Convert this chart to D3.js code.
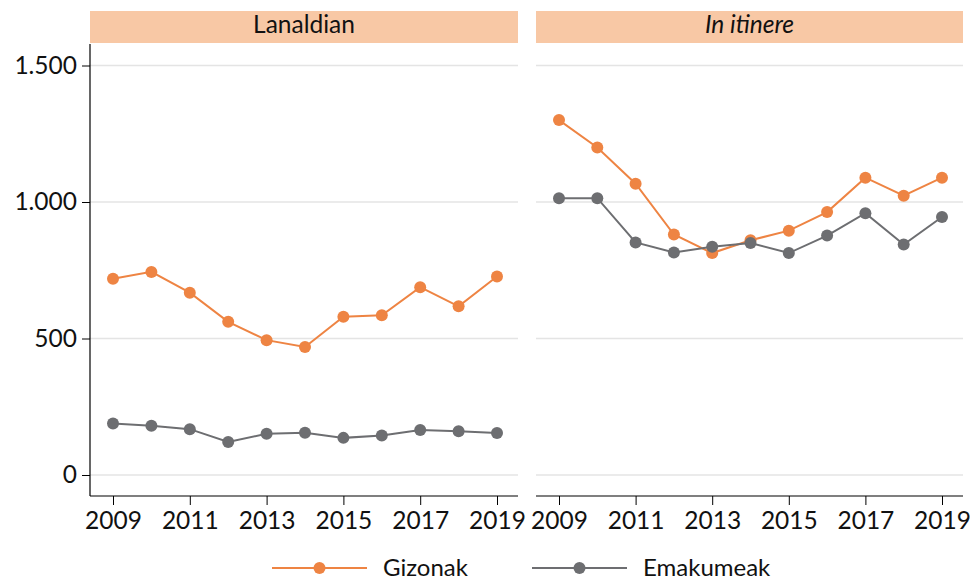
<!DOCTYPE html>
<html>
<head>
<meta charset="utf-8">
<script src="https://cdn.jsdelivr.net/npm/d3@7"></script>
<style>
  body { margin: 0; background: #fff; }
  text { font-family: Lato, "Open Sans", sans-serif; fill: #111; }
</style>
</head>
<body>
<div class="chart"></div>
<script>
const years = [2009, 2010, 2011, 2012, 2013, 2014, 2015, 2016, 2017, 2018, 2019];
const xTickYears = [2009, 2011, 2013, 2015, 2017, 2019];
const yTicks = [0, 500, 1000, 1500];
const panelTitles = ["Lanaldian", "In itinere"];
const seriesNames = ["Gizonak", "Emakumeak"];

const lanaldianGizonak = [719, 744, 668, 561, 494, 469, 580, 585, 688, 618, 727];
const lanaldianEmakumeak = [189, 180, 168, 121, 151, 155, 136, 145, 165, 160, 154];
const itinereGizonak = [1300, 1200, 1067, 881, 813, 860, 895, 963, 1089, 1023, 1089];
const itinereEmakumeak = [1014, 1014, 852, 815, 836, 850, 813, 877, 959, 844, 945];

const colors = ["#ee8443", "#6d6e71"];
const fontSize = "24.5px";

const width = 970, height = 582;
const panels = [
  { title: panelTitles[0], x0: 90, x1: 518, data: [lanaldianGizonak, lanaldianEmakumeak], italic: false },
  { title: panelTitles[1], x0: 536, x1: 963, data: [itinereGizonak, itinereEmakumeak], italic: true }
];
const plotTop = 44, plotBottom = 496;

const svg = d3
  .select(".chart")
  .append("svg")
  .attr("width", width)
  .attr("height", height);

const y = d3.scaleLinear().domain([0, 1500]).range([475, 65.5]);

panels.forEach((p, i) => {
  const g = svg.append("g");
  const x = d3.scaleLinear().domain([2009, 2019]).range([p.x0 + 23, p.x1 - 21]);

  // header strip
  g.append("rect")
    .attr("x", p.x0)
    .attr("y", 11)
    .attr("width", p.x1 - p.x0)
    .attr("height", 32)
    .attr("fill", "#f8c8a5");
  g.append("text")
    .attr("x", (p.x0 + p.x1) / 2)
    .attr("y", 24.5)
    .attr("dy", "0.35em")
    .attr("text-anchor", "middle")
    .style("font-size", fontSize)
    .style("font-style", p.italic ? "italic" : "normal")
    .text(p.title);

  // gridlines
  g.append("g")
    .selectAll("line")
    .data(yTicks)
    .enter()
    .append("line")
    .attr("x1", p.x0)
    .attr("x2", p.x1)
    .attr("y1", (d) => y(d))
    .attr("y2", (d) => y(d))
    .attr("stroke", "#e4e4e4")
    .attr("stroke-width", 1.5);

  // x axis
  const xAxis = g.append("g")
    .attr("transform", "translate(0," + plotBottom + ")")
    .call(d3.axisBottom(x).tickValues(xTickYears).tickFormat(d3.format("d")).tickSizeOuter(0).tickSize(9).tickPadding(7));
  xAxis.select(".domain").remove();
  xAxis.append("line")
    .attr("x1", p.x0).attr("x2", p.x1)
    .attr("stroke", "#000").attr("stroke-width", 1.2);
  xAxis.selectAll(".tick line").attr("stroke", "#000");
  xAxis.selectAll("text").style("font-size", fontSize).attr("fill", "#111")
    .style("font-family", "Lato, sans-serif");

  // y axis only on first panel
  if (i === 0) {
    const yAxis = g.append("g")
      .attr("transform", "translate(" + p.x0 + ",0)")
      .call(d3.axisLeft(y).tickValues(yTicks).tickFormat((d) => d3.format(",")(d).replace(",", ".")).tickSize(8).tickPadding(5).tickSizeOuter(0));
    yAxis.select(".domain").remove();
    yAxis.append("line")
      .attr("y1", plotTop).attr("y2", plotBottom)
      .attr("stroke", "#000").attr("stroke-width", 1.2);
    yAxis.selectAll(".tick line").attr("stroke", "#000");
    yAxis.selectAll("text").style("font-size", fontSize).attr("fill", "#111")
      .style("font-family", "Lato, sans-serif");
  }

  const line = d3.line()
    .x((d, j) => x(years[j]))
    .y((d) => y(d));

  p.data.forEach((vals, s) => {
    g.append("path")
      .datum(vals)
      .attr("d", line)
      .attr("fill", "none")
      .attr("stroke", colors[s])
      .attr("stroke-width", 2);
    g.append("g")
      .selectAll("circle")
      .data(vals)
      .enter()
      .append("circle")
      .attr("cx", (d, j) => x(years[j]))
      .attr("cy", (d) => y(d))
      .attr("r", 6)
      .attr("fill", colors[s]);
  });
});

// legend
const legendItems = [
  { name: seriesNames[0], x1: 272, x2: 367, tx: 383 },
  { name: seriesNames[1], x1: 532, x2: 627, tx: 643 }
];
const legend = svg.append("g").attr("transform", "translate(0,568)");
legendItems.forEach((d, s) => {
  legend.append("line")
    .attr("x1", d.x1).attr("x2", d.x2)
    .attr("stroke", colors[s]).attr("stroke-width", 2);
  legend.append("circle")
    .attr("cx", (d.x1 + d.x2) / 2)
    .attr("r", 6)
    .attr("fill", colors[s]);
  legend.append("text")
    .attr("x", d.tx)
    .attr("dy", "0.32em")
    .style("font-size", "24px")
    .text(d.name);
});
</script>
</body>
</html>
